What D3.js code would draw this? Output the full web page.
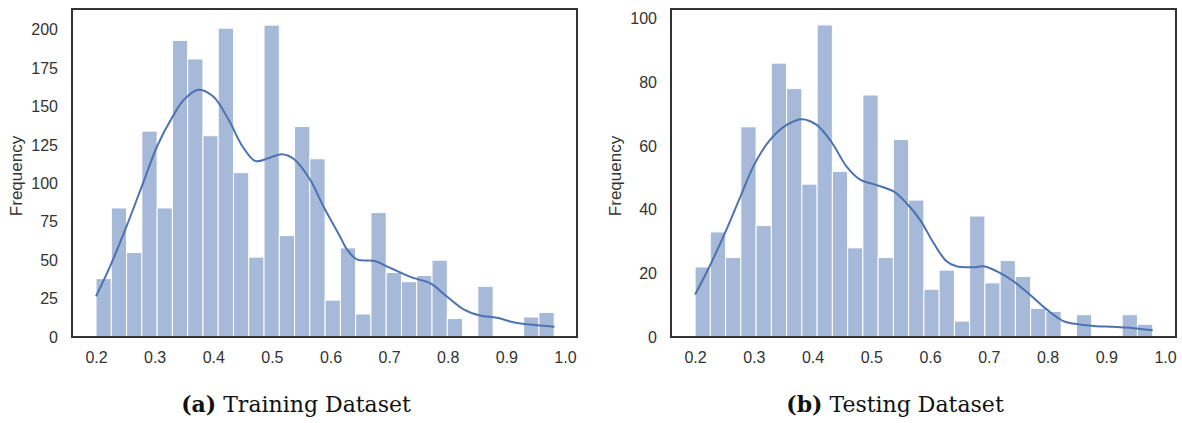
<!DOCTYPE html>
<meta charset="utf-8">
<style>
  body { margin: 0; background: #fff; }
  .tick text { font: 16px "Liberation Sans", Arial, sans-serif; fill: #333; }
  .ylabel { font: 17px "Liberation Sans", Arial, sans-serif; fill: #333; }
  .caption { font: 22px "DejaVu Serif", serif; fill: #111; }
</style>
<body>
<script src="https://d3js.org/d3.v7.min.js"></script>
<script>

  // histogram counts, 30 bins each
  var trainCounts = [38, 84, 55, 134, 84, 193, 181, 131, 201, 107, 52, 203, 66, 137, 116,
                     24, 58, 15, 81, 42, 36, 40, 50, 12, 0, 33, 0, 0, 13, 16];
  var testCounts = [22, 33, 25, 66, 35, 86, 78, 48, 98, 52, 28, 76, 25, 62, 43,
                    15, 21, 5, 38, 17, 24, 19, 9, 8, 0, 7, 0, 0, 7, 4];
  var trainRange = [0.2, 0.9816];
  var testRange = [0.2, 0.979];

  // kde line
  var trainKdeX = [0.200, 0.224, 0.250, 0.281, 0.304, 0.330, 0.350, 0.375, 0.400, 0.426, 0.450,
                   0.472, 0.495, 0.517, 0.537, 0.565, 0.588, 0.616, 0.628, 0.645, 0.676, 0.696,
                   0.719, 0.741, 0.770, 0.798, 0.827, 0.855, 0.884, 0.912, 0.941, 0.982];
  var trainKdeY = [26.5, 46, 70, 101, 124, 143, 154.5, 161, 156.5, 141.5, 124,
                   114.5, 116.5, 119, 116, 102.5, 85, 65.6, 57, 50.5, 49.5, 46,
                   42, 38.5, 35, 26.5, 18, 14, 12.5, 9.6, 8.1, 6.6];
  var testKdeX = [0.200, 0.226, 0.251, 0.277, 0.302, 0.328, 0.356, 0.382, 0.407, 0.433, 0.458,
                  0.481, 0.504, 0.538, 0.560, 0.583, 0.606, 0.628, 0.645, 0.674, 0.691, 0.714,
                  0.742, 0.770, 0.799, 0.827, 0.855, 0.884, 0.912, 0.940, 0.979];
  var testKdeY = [13.3, 22.7, 32.7, 44, 54.6, 62, 66.6, 68.4, 66.6, 61, 53.5,
                  49.4, 48, 45.7, 42, 36.8, 29.5, 23.8, 22.2, 21.9, 22.2, 20.6,
                  17.5, 13.3, 8.6, 5, 3.9, 3.4, 3.2, 2.9, 2.1];

  var xTicks = [0.2, 0.3, 0.4, 0.5, 0.6, 0.7, 0.8, 0.9, 1.0];
  var trainYTicks = [0, 25, 50, 75, 100, 125, 150, 175, 200];
  var testYTicks = [0, 20, 40, 60, 80, 100];

  var width = 1182, height = 423;
  var barColor = "#a6b9d8", lineColor = "#4c72b0";

  var svg = d3.select("body").append("svg")
    .attr("width", width)
    .attr("height", height);

  function panel(opt) {
    var g = svg.append("g");

    var x = d3.scaleLinear().domain(opt.xDomain).range([opt.left, opt.right]);
    var y = d3.scaleLinear().domain([0, opt.yMax]).range([337, 9]);

    var n = opt.counts.length;
    var w = (opt.range[1] - opt.range[0]) / n;
    var bins = opt.counts.map(function(c, i) {
      return { x0: opt.range[0] + i * w, x1: opt.range[0] + (i + 1) * w, c: c };
    });

    g.selectAll("rect.bar")
      .data(bins.filter(function(d) { return d.c > 0; }))
      .enter().append("rect")
      .attr("class", "bar")
      .attr("x", function(d) { return x(d.x0); })
      .attr("width", function(d) { return x(d.x1) - x(d.x0); })
      .attr("y", function(d) { return y(d.c); })
      .attr("height", function(d) { return y(0) - y(d.c); })
      .style("fill", barColor)
      .style("stroke", "#fff")
      .style("stroke-width", 1);

    var pts = opt.kdeX.map(function(v, i) { return [v, opt.kdeY[i]]; });
    var line = d3.line()
      .x(function(d) { return x(d[0]); })
      .y(function(d) { return y(d[1]); })
      .curve(d3.curveCatmullRom.alpha(0.5));

    g.append("path")
      .datum(pts)
      .attr("d", line)
      .style("fill", "none")
      .style("stroke", lineColor)
      .style("stroke-width", 2);

    // frame
    g.append("rect")
      .attr("x", opt.left)
      .attr("y", 9)
      .attr("width", opt.right - opt.left)
      .attr("height", 328)
      .style("fill", "none")
      .style("stroke", "#333")
      .style("stroke-width", 2);

    var xAxis = g.append("g")
      .attr("transform", "translate(0,337)")
      .call(d3.axisBottom(x).tickValues(xTicks).tickFormat(d3.format(".1f")).tickSize(0).tickPadding(15));
    xAxis.select(".domain").remove();

    var yAxis = g.append("g")
      .attr("transform", "translate(" + opt.left + ",0)")
      .call(d3.axisLeft(y).tickValues(opt.yTicks).tickSize(0).tickPadding(14));
    yAxis.select(".domain").remove();

    g.append("text")
      .attr("class", "ylabel")
      .attr("transform", "translate(" + opt.yLabelX + ",176) rotate(-90)")
      .attr("text-anchor", "middle")
      .attr("dy", "0.35em")
      .text("Frequency");

    var cap = g.append("text")
      .attr("class", "caption")
      .attr("x", opt.captionX)
      .attr("y", 412)
      .attr("text-anchor", "middle");
    cap.append("tspan").style("font-weight", "bold").text(opt.tag);
    cap.append("tspan").text(" " + opt.caption);
  }

  panel({
    counts: trainCounts, range: trainRange, kdeX: trainKdeX, kdeY: trainKdeY,
    xDomain: [0.159, 1.0205], left: 72, right: 577, yMax: 213.5, yTicks: trainYTicks,
    yLabelX: 16, captionX: 296, tag: "(a)", caption: "Training Dataset"
  });

  panel({
    counts: testCounts, range: testRange, kdeX: testKdeX, kdeY: testKdeY,
    xDomain: [0.159, 1.0187], left: 671, right: 1176, yMax: 103, yTicks: testYTicks,
    yLabelX: 615, captionX: 895, tag: "(b)", caption: "Testing Dataset"
  });

</script>
